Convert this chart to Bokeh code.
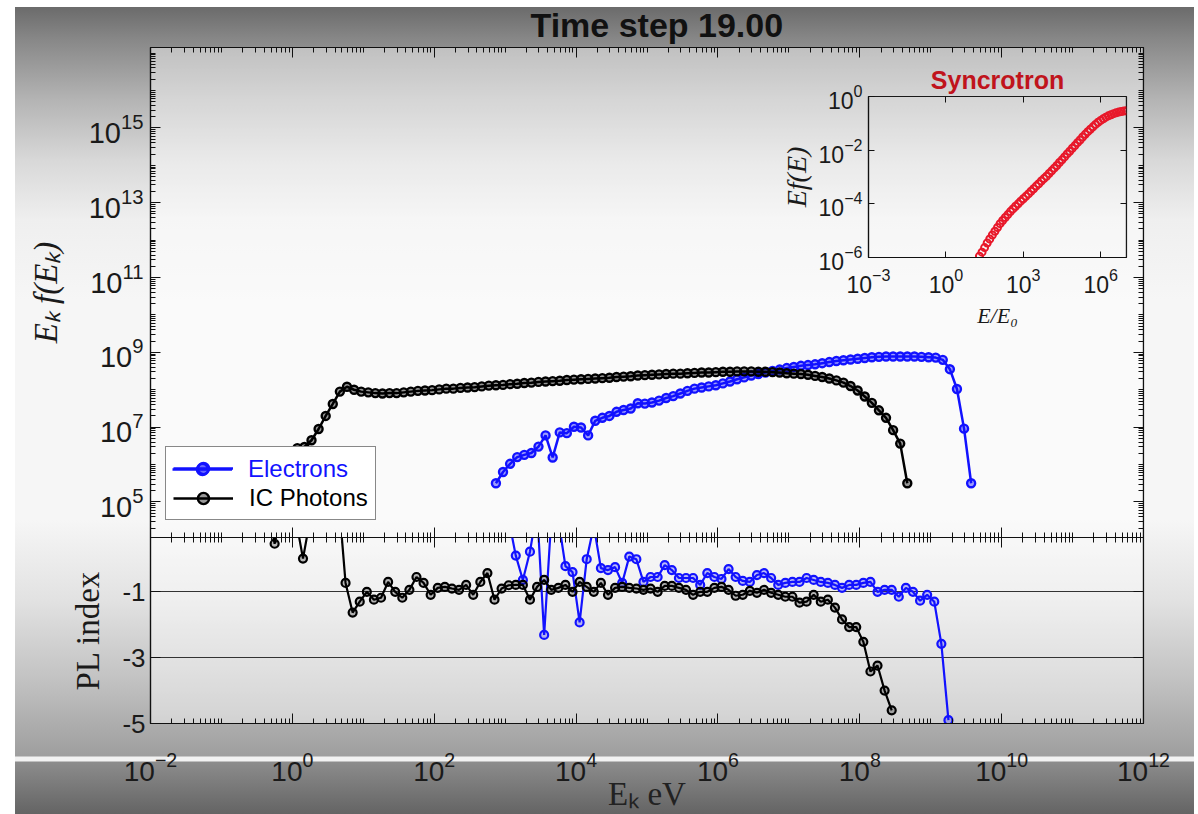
import numpy as np
from bokeh.plotting import figure
from bokeh.models import (Range1d, LogAxis, LinearAxis, FixedTicker, CustomJSTickFormatter,
                          Legend, LegendItem, GridBox)
from bokeh.embed import file_html
from bokeh.resources import INLINE

# ---------------- data (log10 values) ----------------
ic_logE = [-0.33, -0.23, -0.13, -0.03, 0.07, 0.17, 0.27, 0.37, 0.47, 0.57, 0.67, 0.77,
           0.87, 0.97, 1.07, 1.17, 1.27, 1.37, 1.47, 1.57, 1.67, 1.77, 1.87, 1.97,
           2.07, 2.17, 2.27, 2.37, 2.47, 2.57, 2.67, 2.77, 2.87, 2.97, 3.07, 3.17,
           3.27, 3.37, 3.47, 3.57, 3.67, 3.77, 3.87, 3.97, 4.07, 4.17, 4.27, 4.37,
           4.47, 4.57, 4.67, 4.77, 4.87, 4.97, 5.07, 5.17, 5.27, 5.37, 5.47, 5.57,
           5.67, 5.77, 5.87, 5.97, 6.07, 6.17, 6.27, 6.37, 6.47, 6.57, 6.67, 6.77,
           6.87, 6.97, 7.07, 7.17, 7.27, 7.37, 7.47, 7.57, 7.67, 7.77, 7.87, 7.97,
           8.07, 8.17, 8.27, 8.37, 8.47, 8.57, 8.67]
ic_logF = [5.70, 5.90, 6.10, 6.30, 6.44, 6.47, 6.65, 6.95, 7.30, 7.62, 7.95, 8.08,
           8.00, 7.95, 7.93, 7.91, 7.90, 7.91, 7.91, 7.93, 7.95, 7.97, 7.98, 7.99,
           8.01, 8.03, 8.03, 8.05, 8.06, 8.07, 8.09, 8.11, 8.12, 8.13, 8.15, 8.16,
           8.18, 8.19, 8.21, 8.22, 8.23, 8.24, 8.26, 8.27, 8.28, 8.29, 8.30, 8.31,
           8.32, 8.34, 8.35, 8.36, 8.38, 8.39, 8.40, 8.41, 8.42, 8.43, 8.43, 8.44,
           8.45, 8.46, 8.46, 8.47, 8.48, 8.48, 8.49, 8.49, 8.49, 8.48, 8.48, 8.47,
           8.46, 8.44, 8.43, 8.42, 8.40, 8.37, 8.34, 8.30, 8.25, 8.19, 8.10, 7.98,
           7.82, 7.65, 7.45, 7.25, 6.92, 6.56, 5.50]

el_logE = [2.87, 2.97, 3.07, 3.17, 3.27, 3.37, 3.47, 3.57, 3.67, 3.77, 3.87, 3.97,
           4.07, 4.17, 4.27, 4.37, 4.47, 4.57, 4.67, 4.77, 4.87, 4.97, 5.07, 5.17,
           5.27, 5.37, 5.47, 5.57, 5.67, 5.77, 5.87, 5.97, 6.07, 6.17, 6.27, 6.37,
           6.47, 6.57, 6.67, 6.77, 6.87, 6.97, 7.07, 7.17, 7.27, 7.37, 7.47, 7.57,
           7.67, 7.77, 7.87, 7.97, 8.07, 8.17, 8.27, 8.37, 8.47, 8.57, 8.67, 8.77,
           8.87, 8.97, 9.07, 9.17, 9.27, 9.37, 9.47, 9.57]
el_logF = [5.50, 5.80, 6.02, 6.20, 6.26, 6.31, 6.48, 6.78, 6.19, 6.86, 6.84, 7.01,
           6.99, 6.78, 7.17, 7.25, 7.30, 7.41, 7.46, 7.50, 7.64, 7.63, 7.66, 7.71,
           7.78, 7.83, 7.90, 7.97, 8.03, 8.06, 8.09, 8.12, 8.17, 8.22, 8.28, 8.33,
           8.38, 8.42, 8.46, 8.50, 8.54, 8.58, 8.61, 8.64, 8.66, 8.68, 8.71, 8.74,
           8.77, 8.79, 8.81, 8.83, 8.85, 8.87, 8.88, 8.89, 8.89, 8.89, 8.89, 8.89,
           8.88, 8.87, 8.86, 8.80, 8.55, 8.02, 6.96, 5.50]

pl_ic_logE = [-0.45, -0.35, -0.25, -0.15, -0.05, 0.05, 0.15, 0.25, 0.35, 0.45, 0.55, 0.65,
              0.75, 0.85, 0.95, 1.05, 1.15, 1.25, 1.35, 1.45, 1.55, 1.65, 1.75, 1.85,
              1.95, 2.05, 2.15, 2.25, 2.35, 2.45, 2.55, 2.65, 2.75, 2.85, 2.95, 3.05,
              3.15, 3.25, 3.35, 3.45, 3.55, 3.65, 3.75, 3.85, 3.95, 4.05, 4.15, 4.25,
              4.35, 4.45, 4.55, 4.65, 4.75, 4.85, 4.95, 5.05, 5.15, 5.25, 5.35, 5.45,
              5.55, 5.65, 5.75, 5.85, 5.95, 6.05, 6.15, 6.25, 6.35, 6.45, 6.55, 6.65,
              6.75, 6.85, 6.95, 7.05, 7.15, 7.25, 7.35, 7.45, 7.55, 7.65, 7.75, 7.85,
              7.95, 8.05, 8.15, 8.25, 8.35, 8.45]
pl_ic = [1.6, 1.6, 0.46, 1.5, 1.5, 1.2, 0.01, 1.2, 1.8, 1.9, 1.9, 1.9,
         -0.73, -1.63, -1.30, -1.00, -1.24, -1.18, -0.70, -1.00, -1.18, -0.94, -0.55, -0.73,
         -1.09, -0.88, -0.85, -0.90, -0.94, -0.79, -1.09, -0.70, -0.43, -1.24, -0.90, -0.80,
         -0.79, -0.79, -1.24, -0.85, -0.64, -0.94, -0.88, -0.79, -1.00, -0.70, -0.85, -1.00,
         -0.73, -1.09, -0.88, -0.85, -0.88, -0.90, -0.94, -0.90, -1.00, -0.82, -0.82, -0.88,
         -0.94, -1.09, -1.00, -1.00, -0.88, -0.85, -0.94, -1.12, -1.09, -0.97, -1.03, -0.94,
         -1.03, -1.09, -1.15, -1.15, -1.33, -1.30, -1.09, -1.30, -1.24, -1.48, -1.84, -2.07,
         -2.07, -2.52, -3.42, -3.24, -4.00, -4.60]

pl_el_logE = [2.95, 3.05, 3.15, 3.25, 3.35, 3.45, 3.55, 3.65, 3.75, 3.85, 3.95, 4.05,
              4.15, 4.25, 4.35, 4.45, 4.55, 4.65, 4.75, 4.85, 4.95, 5.05, 5.15, 5.25,
              5.35, 5.45, 5.55, 5.65, 5.75, 5.85, 5.95, 6.05, 6.15, 6.25, 6.35, 6.45,
              6.55, 6.65, 6.75, 6.85, 6.95, 7.05, 7.15, 7.25, 7.35, 7.45, 7.55, 7.65,
              7.75, 7.85, 7.95, 8.05, 8.15, 8.25, 8.35, 8.45, 8.55, 8.65, 8.75, 8.85,
              8.95, 9.05, 9.15, 9.25]
pl_el = [1.8, 1.2, 0.10, -0.64, 0.22, 1.5, -2.31, 1.2, 1.2, -0.22, -0.40, -1.93,
         -0.01, 1.0, -0.28, -0.34, -0.25, -0.73, 0.07, -0.01, -0.70, -0.55, -0.55, -0.19,
         -0.34, -0.58, -0.58, -0.58, -0.79, -0.43, -0.55, -0.61, -0.31, -0.55, -0.67, -0.70,
         -0.49, -0.43, -0.58, -0.79, -0.73, -0.70, -0.70, -0.58, -0.64, -0.70, -0.73, -0.79,
         -0.88, -0.79, -0.79, -0.73, -0.70, -1.00, -0.94, -0.94, -1.15, -0.88, -1.00, -1.27,
         -1.09, -1.30, -2.58, -4.90]

sync_logx = [1.3, 1.4, 1.5, 1.6, 1.7, 1.8, 1.9, 2.0, 2.1, 2.2, 2.3, 2.4, 2.5, 2.6, 2.7,
             2.8, 2.9, 3.0, 3.1, 3.2, 3.3, 3.4, 3.5, 3.6, 3.7, 3.8, 3.9, 4.0, 4.1, 4.2,
             4.3, 4.4, 4.5, 4.6, 4.7, 4.8, 4.9, 5.0, 5.1, 5.2, 5.3, 5.4, 5.5, 5.6, 5.7,
             5.8, 5.9, 6.0, 6.1, 6.2, 6.3, 6.4, 6.5, 6.6, 6.7, 6.8, 6.9, 7.0]
sync_logy = [-5.95, -5.80, -5.63, -5.46, -5.31, -5.16, -5.02, -4.88, -4.74, -4.62, -4.51,
             -4.40, -4.29, -4.19, -4.09, -4.00, -3.90, -3.81, -3.72, -3.63, -3.53, -3.44,
             -3.34, -3.25, -3.15, -3.06, -2.97, -2.87, -2.77, -2.67, -2.57, -2.46, -2.36,
             -2.25, -2.14, -2.04, -1.93, -1.83, -1.72, -1.62, -1.51, -1.41, -1.31, -1.22,
             -1.13, -1.04, -0.96, -0.89, -0.83, -0.77, -0.72, -0.68, -0.64, -0.61, -0.58,
             -0.56, -0.54, -0.53]

main_yticks_exp = [5, 7, 9, 11, 13, 15]
x_ticks_exp = [-2, 0, 2, 4, 6, 8, 10, 12]
pl_ticks = [-5, -3, -1]
inset_xticks_exp = [-3, 0, 3, 6]
inset_yticks_exp = [-6, -4, -2, 0]

# ---------------- style ----------------
FONT = "Liberation Sans"
SERIF = "Liberation Serif"
BLUE = "#1212ff"
BLACK = "#000000"
RED = "#e8182a"
TXT = "#1a1a1a"

X_LO, X_HI = 1e-2, 1e12
Y_LO, Y_HI = 10 ** 4.05, 10 ** 17.15
PL_LO, PL_HI = -5, 0.65
IX_LO, IX_HI = 1e-3, 1e7
IY_LO, IY_HI = 1e-6, 1e0


def p10(a):
    return [10.0 ** v for v in a]


def minor_list(lo, hi):
    return [k * 10.0 ** d for d in range(lo, hi + 1) for k in range(1, 10)]


def style_axis(ax, size="28px", labels=True, minor=True):
    ax.major_tick_in = 10
    ax.major_tick_out = 0
    ax.minor_tick_in = 5 if minor else 0
    ax.minor_tick_out = 0
    ax.axis_line_color = "#111111"
    ax.axis_line_width = 1.2
    ax.major_tick_line_color = "#111111"
    ax.minor_tick_line_color = "#111111"
    ax.major_label_text_font = FONT
    ax.major_label_text_font_size = size
    ax.major_label_text_color = TXT
    if not labels:
        ax.formatter = CustomJSTickFormatter(code="return ''")
        ax.major_label_text_font_size = "1px"
        ax.major_label_standoff = 0


BG = ("linear-gradient(to right, #ffffff 0px, #ffffff 15px, rgba(0,0,0,0) 15px, "
      "rgba(0,0,0,0) 1194px, #ffffff 1194px), "
      "linear-gradient(to bottom, #ffffff 0px, #ffffff 7px, #6b6b6b 7px, #888888 40px, "
      "#b4b4b4 100px, #d8d8d8 160px, #efefef 220px, #f6f6f6 300px, #f6f6f6 520px, "
      "#e2e2e2 600px, #c2c2c2 680px, #9e9e9e 756px, #f2f2f2 757px, #f2f2f2 761px, "
      "#8c8c8c 762px, #646464 814px)")

# ---------------- main panel ----------------
xt = FixedTicker(ticks=p10(x_ticks_exp), minor_ticks=minor_list(-2, 12))
main = figure(width=1198, height=657, x_axis_type="log", y_axis_type="log",
              x_range=Range1d(X_LO, X_HI), y_range=Range1d(Y_LO, Y_HI),
              output_backend="svg", toolbar_location=None, frame_align=False,
              min_border_left=150, min_border_right=55, min_border_top=45,
              min_border_bottom=120)
main.background_fill_color = "#ffffff"
main.background_fill_alpha = 0.45
main.border_fill_alpha = 0
main.outline_line_color = "#111111"
main.outline_line_width = 1.2
main.xgrid.visible = False
main.ygrid.visible = False

main.title.text = "Time step 19.00"
main.title.align = "left"
main.title.offset = 380
main.title.text_font = FONT
main.title.text_font_style = "bold"
main.title.text_font_size = "34px"
main.title.text_color = "#111111"
main.title.standoff = 7

yt = FixedTicker(ticks=p10(main_yticks_exp), minor_ticks=minor_list(4, 17))
main.yaxis.ticker = yt
style_axis(main.yaxis[0], size="29px")
main.yaxis.major_label_standoff = 7
main.yaxis.axis_label = "Eₖ f(Eₖ)"
main.yaxis.axis_label_text_font = SERIF
main.yaxis.axis_label_text_font_style = "italic"
main.yaxis.axis_label_text_font_size = "33px"
main.yaxis.axis_label_text_color = TXT
main.yaxis.axis_label_standoff = 22

main.xaxis.ticker = xt
style_axis(main.xaxis[0], labels=False)
main.xaxis.fixed_location = Y_LO
top_ax = LogAxis(ticker=xt, fixed_location=Y_HI)
style_axis(top_ax, labels=False)
main.add_layout(top_ax, "above")
right_ax = LogAxis(ticker=yt, fixed_location=X_HI)
style_axis(right_ax, labels=False)
main.add_layout(right_ax, "right")

ic_x, ic_y = p10(ic_logE), p10(ic_logF)
el_x, el_y = p10(el_logE), p10(el_logF)
r_el_l = main.line(el_x, el_y, line_color=BLUE, line_width=2.5)
r_el_p = main.scatter(el_x, el_y, marker="circle", size=8, line_color=BLUE,
                      fill_color=BLUE, fill_alpha=0.4, line_width=2.4)
r_ic_l = main.line(ic_x, ic_y, line_color=BLACK, line_width=2.5)
r_ic_p = main.scatter(ic_x, ic_y, marker="circle", size=8, line_color=BLACK,
                      fill_color=BLACK, fill_alpha=0.4, line_width=2.4)

leg_kw = dict(margin=0, padding=7, spacing=2, glyph_width=60,
              glyph_height=28, label_standoff=16, label_text_font=FONT,
              label_text_font_size="24px", label_height=28)
legA = Legend(items=[LegendItem(label=" ", renderers=[r_el_l, r_el_p]),
                     LegendItem(label="IC Photons", renderers=[r_ic_l, r_ic_p])],
              location=(15, 17),
              border_line_color="#111111", border_line_width=1.2,
              background_fill_color="#ffffff", background_fill_alpha=1.0,
              label_text_color=BLACK, **leg_kw)
legB = Legend(items=[LegendItem(label="Electrons", renderers=[r_el_l, r_el_p])],
              location=(15, 47),
              border_line_alpha=0, background_fill_alpha=0,
              label_text_color=BLUE, **leg_kw)
main.add_layout(legA, "center")
main.add_layout(legB, "center")

# ---------------- lower panel (PL index) ----------------
low = figure(width=1198, height=287, x_axis_type="log", title=None,
             x_range=Range1d(X_LO, X_HI), y_range=Range1d(PL_LO, PL_HI),
             output_backend="svg", toolbar_location=None, frame_align=False,
             min_border_left=150, min_border_right=55, min_border_top=10,
             min_border_bottom=91)
low.background_fill_color = "#ffffff"
low.background_fill_alpha = 0.45
low.border_fill_alpha = 0
low.outline_line_color = "#111111"
low.outline_line_width = 1.2
low.xgrid.visible = False
low.ygrid.ticker = FixedTicker(ticks=[-3, -1])
low.ygrid.grid_line_color = "#333333"
low.ygrid.grid_line_width = 1

low.xaxis.ticker = xt
style_axis(low.xaxis[0])
low.xaxis.major_label_standoff = 28
low.xaxis.axis_label = "Eₖ eV"
low.xaxis.axis_label_text_font = SERIF
low.xaxis.axis_label_text_font_style = "normal"
low.xaxis.axis_label_text_font_size = "33px"
low.xaxis.axis_label_text_color = "#222222"
low.xaxis.axis_label_standoff = -8

plt = FixedTicker(ticks=pl_ticks, minor_ticks=[])
low.yaxis.ticker = plt
style_axis(low.yaxis[0], size="26px", minor=False)
low.yaxis.major_label_overrides = {-5: "-5", -3: "-3", -1: "-1"}
low.yaxis.major_label_standoff = 5
low.yaxis.axis_label = "PL index"
low.yaxis.axis_label_text_font = SERIF
low.yaxis.axis_label_text_font_style = "normal"
low.yaxis.axis_label_text_font_size = "33px"
low.yaxis.axis_label_text_color = TXT
low.yaxis.axis_label_standoff = 13

ltop = LogAxis(ticker=xt, fixed_location=PL_HI)
style_axis(ltop, labels=False)
low.add_layout(ltop, "above")
lright = LinearAxis(ticker=plt, fixed_location=X_HI)
style_axis(lright, labels=False, minor=False)
low.add_layout(lright, "right")

pi_x, pe_x = p10(pl_ic_logE), p10(pl_el_logE)
low.line(pe_x, pl_el, line_color=BLUE, line_width=2.2)
low.scatter(pe_x, pl_el, marker="circle", size=8, line_color=BLUE, fill_color=BLUE,
            fill_alpha=0.25, line_width=2.2)
low.line(pi_x, pl_ic, line_color=BLACK, line_width=2.2)
low.scatter(pi_x, pl_ic, marker="circle", size=8, line_color=BLACK, fill_color=BLACK,
            fill_alpha=0.25, line_width=2.2)

# ---------------- inset (synchrotron) ----------------
ins = figure(width=386, height=297, x_axis_type="log", y_axis_type="log",
             x_range=Range1d(IX_LO, IX_HI), y_range=Range1d(IY_LO, IY_HI),
             output_backend="svg", toolbar_location=None, frame_align=False,
             min_border_left=108, min_border_right=20, min_border_top=46,
             min_border_bottom=90)
ins.background_fill_alpha = 0
ins.border_fill_alpha = 0
ins.outline_line_color = "#222222"
ins.outline_line_width = 1.2
ins.xgrid.visible = False
ins.ygrid.visible = False
ins.title.text = "Syncrotron"
ins.title.align = "center"
ins.title.offset = 10
ins.title.text_font = FONT
ins.title.text_font_style = "bold"
ins.title.text_font_size = "25px"
ins.title.text_color = "#c0141c"
ins.title.standoff = 6

ixt = FixedTicker(ticks=p10(inset_xticks_exp), minor_ticks=[])
iyt = FixedTicker(ticks=p10(inset_yticks_exp), minor_ticks=[])
ins.xaxis.ticker = ixt
ins.yaxis.ticker = iyt
style_axis(ins.xaxis[0], size="23px", minor=False)
style_axis(ins.yaxis[0], size="23px", minor=False)
for ax in (ins.xaxis[0], ins.yaxis[0]):
    ax.major_tick_in = 6
ins.xaxis.major_label_standoff = 10
ins.yaxis.major_label_standoff = 6
ins.xaxis.axis_label = "E/E₀"
ins.yaxis.axis_label = "Ef(E)"
for ax in (ins.xaxis[0], ins.yaxis[0]):
    ax.axis_label_text_font = SERIF
    ax.axis_label_text_font_style = "italic"
    ax.axis_label_text_color = TXT
ins.xaxis.axis_label_text_font_size = "22px"
ins.yaxis.axis_label_text_font_size = "28px"
ins.xaxis.axis_label_standoff = 7
ins.yaxis.axis_label_standoff = 4
itop = LogAxis(ticker=ixt, fixed_location=IY_HI)
style_axis(itop, labels=False, minor=False)
itop.major_tick_in = 6
ins.add_layout(itop, "above")
iright = LogAxis(ticker=iyt, fixed_location=IX_HI)
style_axis(iright, labels=False, minor=False)
iright.major_tick_in = 6
ins.add_layout(iright, "right")

ins.scatter(p10(sync_logx), p10(sync_logy), marker="circle", size=7, line_color=RED,
            fill_color=None, line_width=2.0)

# ---------------- layout ----------------
main.margin = (0, 0, 0, 0)
low.margin = (527, 0, 0, 0)
ins.margin = (50, 0, 0, 760)

root = GridBox(children=[(main, 0, 0), (low, 0, 0), (ins, 0, 0)],
               width=1198, height=814, styles={"background": BG})

open("out.html", "w").write(file_html(root, INLINE))
